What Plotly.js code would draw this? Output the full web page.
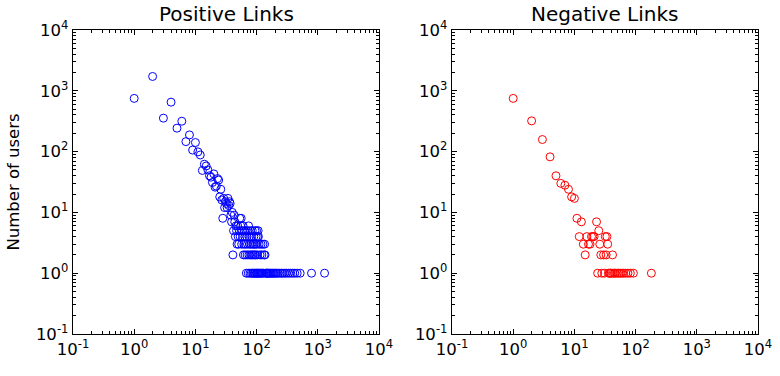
<!DOCTYPE html>
<html>
<head>
<meta charset="utf-8">
<script src="https://cdn.plot.ly/plotly-3.0.1.min.js"></script>
<style>
    body {margin: 0; background: #fff;}
    #chart {width: 780px; height: 376px;}
</style>
</head>
<body>
<div id="chart"></div>
<script>
// degree distribution: x = number of links, y = number of users
const posDegree = [1, 2, 3, 4, 5, 6, 7, 8, 9, 10, 11, 12, 13, 14, 15, 16, 17, 18, 19, 20,
    21, 22, 23, 24, 25, 26, 27, 28, 29, 30, 31, 32, 33, 34, 35, 36, 37, 38, 39, 40,
    41, 42, 43, 44, 45, 46, 47, 48, 49, 50, 51, 52, 53, 54, 55, 56, 57, 58, 59, 60,
    61, 62, 63, 64, 65, 66, 67, 68, 69, 70, 71, 72, 73, 74, 75, 76, 77, 78, 79, 80,
    81, 82, 83, 84, 85, 86, 87, 88, 89, 90, 91, 92, 93, 94, 95, 96, 97, 98, 99, 100,
    101, 102, 103, 104, 105, 106, 107, 108, 110, 112, 114, 116, 118, 120, 122, 124, 127, 130, 133, 135,
    137, 140, 144, 148, 152, 157, 162, 168, 174, 181, 188, 196, 205, 214, 225, 240, 255, 270, 290, 310,
    335, 360, 390, 420, 460, 515, 790, 1290];
const posUsers = [750, 1720, 355, 650, 243, 316, 146, 188, 106, 141, 99, 88, 49, 62, 58, 50, 40, 38, 31, 43,
    26, 27, 36, 34, 18, 24, 16, 8, 17, 12, 15, 14, 12, 17, 13, 15, 14, 9, 7, 10,
    2, 5, 9, 7, 4, 6, 5, 3, 6, 4, 3, 5, 8, 4, 6, 8, 3, 5, 4, 6,
    2, 3, 5, 4, 2, 3, 5, 1, 4, 2, 3, 5, 1, 6, 2, 4, 3, 1, 5, 2,
    3, 1, 4, 2, 5, 1, 3, 2, 1, 4, 3, 1, 2, 5, 1, 3, 2, 4, 1, 5,
    3, 1, 2, 4, 1, 5, 4, 1, 3, 1, 2, 1, 3, 1, 2, 1, 3, 1, 2, 3,
    2, 1, 1, 1, 1, 1, 1, 1, 1, 1, 1, 1, 1, 1, 1, 1, 1, 1, 1, 1,
    1, 1, 1, 1, 1, 1, 1, 1];

const negDegree = [1, 2, 3, 4, 5, 6, 7, 8, 9, 10, 11, 12, 13, 14, 15, 16, 17, 18, 19, 20,
    21, 23, 24, 25, 26, 27, 28, 30, 31, 32, 33, 34, 35, 36, 38, 39, 40, 42, 43, 45,
    47, 50, 53, 56, 60, 64, 69, 75, 82, 92, 181];
const negUsers = [750, 320, 158, 82, 40, 30, 28, 24, 18, 17, 8, 4, 7, 3, 2, 4, 3, 3, 4, 4,
    4, 7, 1, 5, 3, 2, 1, 2, 1, 4, 2, 4, 3, 1, 1, 1, 1, 2, 1, 1,
    1, 1, 1, 1, 1, 1, 1, 1, 1, 1, 1];

const panelTitles = ['Positive Links', 'Negative Links'];
const panelColors = ['rgb(0,0,255)', 'rgb(255,0,0)'];
const decadeVals = [0.1, 1, 10, 100, 1000, 10000];
const decadeText = ['10<sup>-1</sup>', '10<sup>0</sup>', '10<sup>1</sup>', '10<sup>2</sup>', '10<sup>3</sup>', '10<sup>4</sup>'];

const FONT = 'DejaVu Sans, sans-serif';

function logAxis(domain, anchor) {
    return {
        type: 'log',
        range: [-1, 4],
        domain: domain,
        anchor: anchor,
        tickmode: 'array',
        tickvals: decadeVals,
        ticktext: decadeText,
        ticks: 'inside',
        ticklen: 5,
        tickwidth: 1,
        tickcolor: 'black',
        mirror: 'allticks',
        showline: true,
        linecolor: 'black',
        linewidth: 1.3,
        showgrid: false,
        zeroline: false,
        tickfont: {family: FONT, size: 16.5, color: 'black'},
        minor: {ticks: 'inside', ticklen: 3, tickwidth: 1, tickcolor: 'black', dtick: 'D1', showgrid: false}
    };
}

function scatterTrace(x, y, color, xa, ya) {
    return {
        x: x, y: y, xaxis: xa, yaxis: ya,
        type: 'scatter', mode: 'markers',
        marker: {symbol: 'circle-open', size: 8, color: color, line: {width: 1, color: color}},
        hoverinfo: 'x+y'
    };
}

const traces = [
    scatterTrace(posDegree, posUsers, panelColors[0], 'x', 'y'),
    scatterTrace(negDegree, negUsers, panelColors[1], 'x2', 'y2')
];

const yLeft = logAxis([0, 1], 'x');
yLeft.title = {text: 'Number of users', font: {family: FONT, size: 16.5, color: 'black'}, standoff: 12};

const layout = {
    width: 780,
    height: 376,
    margin: {l: 73, r: 22, t: 30, b: 42},
    paper_bgcolor: 'white',
    plot_bgcolor: 'white',
    showlegend: false,
    xaxis: logAxis([0, 306 / 685], 'y'),
    yaxis: yLeft,
    xaxis2: logAxis([379 / 685, 1], 'y2'),
    yaxis2: logAxis([0, 1], 'x2'),
    annotations: panelTitles.map((t, i) => ({
        text: t,
        xref: i === 0 ? 'x domain' : 'x2 domain',
        yref: 'paper',
        x: 0.5, y: 1,
        xanchor: 'center', yanchor: 'bottom',
        yshift: 2,
        showarrow: false,
        font: {family: FONT, size: 20, color: 'black'}
    }))
};

Plotly.newPlot('chart', traces, layout, {displayModeBar: false, staticPlot: true});
</script>
</body>
</html>
